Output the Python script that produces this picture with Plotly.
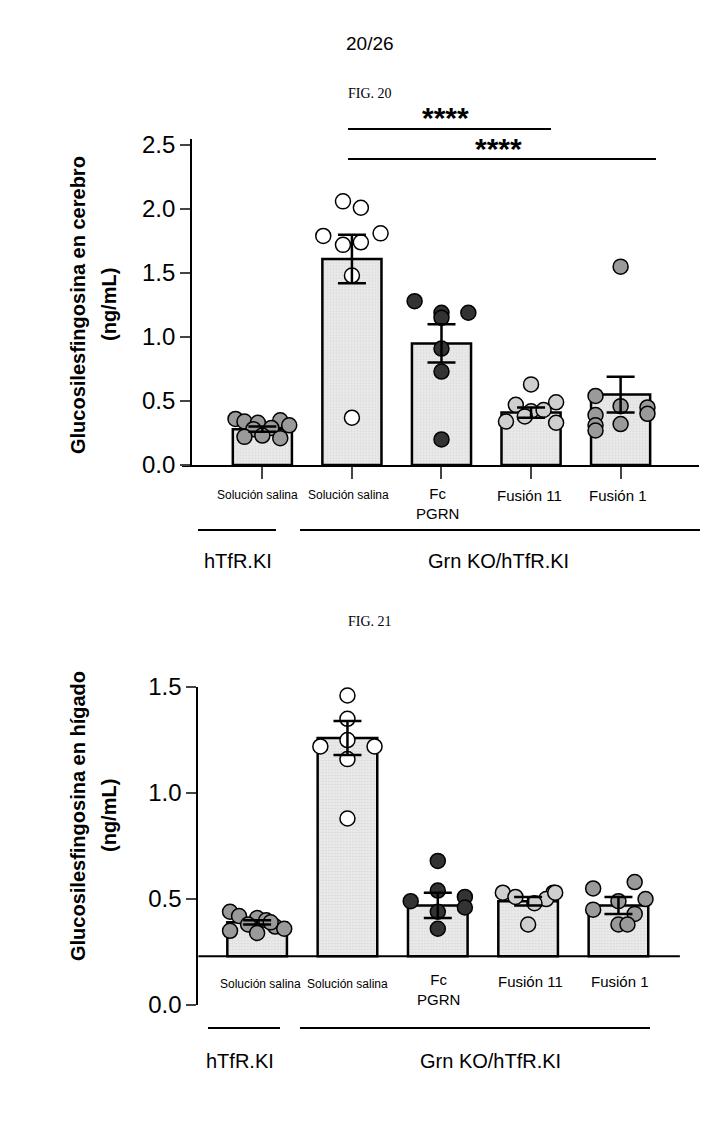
import plotly.graph_objects as go

groups = ["Solución salina", "Solución salina", "Fc<br>PGRN", "Fusión 11", "Fusión 1"]
colors = ["#9a9a9a", "#ffffff", "#333333", "#cfcfcf", "#9a9a9a"]

brain_mean = [0.28, 1.61, 0.95, 0.41, 0.55]
brain_sem = [0.02, 0.19, 0.15, 0.04, 0.14]
brain_pts = [
    [0.36, 0.34, 0.33, 0.35, 0.31, 0.28, 0.29, 0.22, 0.23, 0.21],
    [2.06, 2.01, 1.79, 1.81, 1.74, 1.72, 1.48, 0.37],
    [1.28, 1.19, 1.19, 1.15, 0.91, 0.73, 0.20],
    [0.63, 0.47, 0.49, 0.42, 0.43, 0.34, 0.33, 0.38],
    [1.55, 0.54, 0.46, 0.45, 0.39, 0.40, 0.32, 0.31, 0.27],
]
brain_jit = [
    [-0.3, -0.2, -0.05, 0.2, 0.3, -0.1, 0.1, -0.2, 0.0, 0.2],
    [-0.1, 0.1, -0.32, 0.32, 0.1, -0.1, 0.0, 0.0],
    [-0.3, 0.3, 0.0, 0.0, 0.0, 0.0, 0.0],
    [0.0, -0.17, 0.28, 0.0, 0.14, -0.28, 0.28, -0.07],
    [0.0, -0.28, 0.0, 0.3, -0.28, 0.3, 0.0, -0.28, -0.28],
]
liver_mean = [0.39, 1.26, 0.47, 0.49, 0.47]
liver_sem = [0.01, 0.08, 0.06, 0.02, 0.04]
liver_pts = [
    [0.44, 0.42, 0.41, 0.40, 0.38, 0.37, 0.36, 0.35, 0.34, 0.39],
    [1.56, 1.46, 1.35, 1.25, 1.22, 1.22, 1.16, 0.88],
    [0.68, 0.54, 0.51, 0.49, 0.46, 0.44, 0.36],
    [0.53, 0.53, 0.51, 0.50, 0.48, 0.53, 0.38],
    [0.58, 0.55, 0.49, 0.50, 0.45, 0.43, 0.38, 0.38],
]
liver_jit = [
    [-0.3, -0.2, 0.0, 0.1, -0.1, 0.2, 0.3, -0.3, 0.0, 0.15],
    [0.0, 0.0, 0.0, 0.0, -0.3, 0.3, 0.0, 0.0],
    [0.0, 0.0, 0.3, -0.3, 0.3, 0.0, 0.0],
    [-0.28, 0.28, -0.14, 0.2, 0.07, 0.3, 0.0],
    [0.18, -0.28, 0.0, 0.3, -0.28, 0.18, -0.0, 0.1],
]
liver_base = 0.23
xs = [0, 1, 2, 3, 4]

fig = go.Figure()
bar_style = dict(marker=dict(color="#ebebeb", line=dict(color="black", width=2.5),
                             pattern=dict(shape=".", size=3, fgcolor="#c8c8c8", solidity=0.3)),
                 width=0.66, showlegend=False, hoverinfo="skip")

fig.add_trace(go.Bar(x=xs, y=brain_mean, xaxis="x", yaxis="y", **bar_style))
fig.add_trace(go.Bar(x=xs, y=[m - liver_base for m in liver_mean], base=liver_base,
                     xaxis="x2", yaxis="y2", **bar_style))

for i in range(5):
    fig.add_trace(go.Scatter(x=[xs[i] + j for j in brain_jit[i]], y=brain_pts[i], mode="markers",
                             marker=dict(size=15, color=colors[i], line=dict(color="black", width=1.5)),
                             xaxis="x", yaxis="y", showlegend=False, cliponaxis=False))
    fig.add_trace(go.Scatter(x=[xs[i] + j for j in liver_jit[i]], y=liver_pts[i], mode="markers",
                             marker=dict(size=15, color=colors[i], line=dict(color="black", width=1.5)),
                             xaxis="x2", yaxis="y2", showlegend=False, cliponaxis=False))

for ax, ay, means, sems in [("x", "y", brain_mean, brain_sem), ("x2", "y2", liver_mean, liver_sem)]:
    fig.add_trace(go.Scatter(x=xs, y=means, mode="markers", marker=dict(size=1, color="rgba(0,0,0,0)"),
                             error_y=dict(type="data", array=sems, color="black", thickness=2.5, width=14),
                             xaxis=ax, yaxis=ay, showlegend=False, cliponaxis=False))

tickfont = dict(family="Liberation Sans Narrow, Arial Narrow, Liberation Sans", size=24, color="black")
fig.update_layout(
    width=724, height=1148, autosize=False, margin=dict(l=0, r=0, t=0, b=0, pad=0),
    paper_bgcolor="white", plot_bgcolor="white", barmode="overlay",
    xaxis=dict(domain=[0.240, 0.955], range=[-0.9, 4.88], showline=True, linecolor="black", linewidth=2,
               tickvals=xs, ticktext=[""] * 5, ticks="outside", ticklen=12, tickwidth=2, showgrid=False,
               zeroline=False, automargin=False),
    yaxis=dict(domain=[0.6019, 0.8862], range=[0, 2.55], tickvals=[0, 0.5, 1.0, 1.5, 2.0, 2.5],
               ticktext=["0.0", "0.5", "1.0", "1.5", "2.0", "2.5"], ticks="outside", ticklen=10, tickwidth=2,
               showline=True, linecolor="black", linewidth=2, showgrid=False, zeroline=False,
               tickfont=tickfont, anchor="free", position=0.253, automargin=False),
    xaxis2=dict(domain=[0.263, 0.928], range=[-0.65, 4.68], showline=False,
                tickvals=xs, ticktext=[""] * 5, showgrid=False, zeroline=False, anchor="y2", automargin=False),
    yaxis2=dict(domain=[0.1315, 0.4085], range=[0, 1.5], tickvals=[0, 0.5, 1.0, 1.5],
                ticktext=["0.0", "0.5", "1.0", "1.5"], ticks="outside", ticklen=10, tickwidth=2,
                showline=True, linecolor="black", linewidth=2, showgrid=False, zeroline=False,
                tickfont=tickfont, anchor="x2", automargin=False),
)
fig.add_shape(type="line", xref="x2 domain", yref="y2", x0=0, x1=1, y0=liver_base, y1=liver_base,
              line=dict(color="black", width=2))

def ptxt(x, y, text, size=14, family="Liberation Sans Narrow, Liberation Sans", bold=False, **kw):
    fig.add_annotation(xref="paper", yref="paper", x=x / 724, y=1 - y / 1148,
                       xanchor="center", yanchor="middle",
                       text=f"<b>{text}</b>" if bold else text,
                       showarrow=False, font=dict(family=family, size=size, color="black"), **kw)

def pline(x0, x1, y):
    fig.add_shape(type="line", xref="paper", yref="paper", x0=x0 / 724, x1=x1 / 724,
                  y0=1 - y / 1148, y1=1 - y / 1148, line=dict(color="black", width=2))

ptxt(362, 35, "20/26", size=19, family="Liberation Sans")
ptxt(362, 85, "FIG. 20", size=14, family="Liberation Serif")
ptxt(362, 613, "FIG. 21", size=14, family="Liberation Serif")

pline(340, 543, 121)
pline(340, 648, 151)
ptxt(437, 110, "****", size=30, family="Liberation Sans", bold=True)
ptxt(490, 140, "****", size=30, family="Liberation Sans", bold=True)

ptxt(70, 297, "Glucosilesfingosina en cerebro", size=20, family="Liberation Sans", bold=True, textangle=-90)
ptxt(101, 297, "(ng/mL)", size=20, family="Liberation Sans", bold=True, textangle=-90)
ptxt(70, 808, "Glucosilesfingosina en hígado", size=20, family="Liberation Sans", bold=True, textangle=-90)
ptxt(101, 808, "(ng/mL)", size=20, family="Liberation Sans", bold=True, textangle=-90)

top_lab = [(249, 487, "Solución salina", 12), (340, 487, "Solución salina", 12), (429, 495, "Fc<br>PGRN", 15),
           (521, 487, "Fusión 11", 15), (610, 487, "Fusión 1", 15)]
for x, y, t, s in top_lab:
    ptxt(x, y, t, size=s)
bot_lab = [(252, 976, "Solución salina", 12), (339, 976, "Solución salina", 12), (430, 981, "Fc<br>PGRN", 15),
           (522, 973, "Fusión 11", 15), (612, 973, "Fusión 1", 15)]
for x, y, t, s in bot_lab:
    ptxt(x, y, t, size=s)

pline(190, 268, 522)
pline(292, 692, 522)
ptxt(230, 553, "hTfR.KI", size=20, family="Liberation Sans")
ptxt(490, 553, "Grn KO/hTfR.KI", size=20, family="Liberation Sans")
pline(200, 272, 1020)
pline(292, 642, 1020)
ptxt(232, 1053, "hTfR.KI", size=20, family="Liberation Sans")
ptxt(482, 1053, "Grn KO/hTfR.KI", size=20, family="Liberation Sans")

fig.write_html("out.html")
